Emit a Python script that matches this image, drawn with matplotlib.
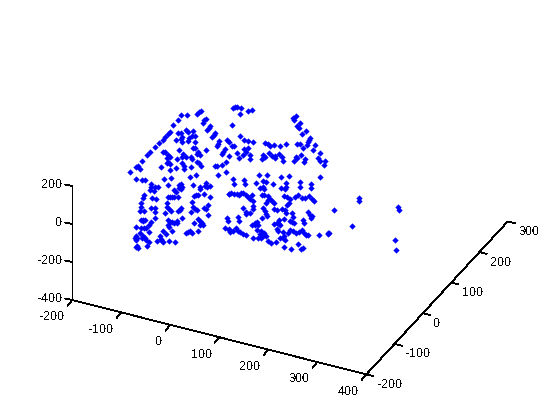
import matplotlib
matplotlib.use("Agg")
import matplotlib.pyplot as plt
import numpy as np

plt.rcParams['font.family'] = ['Liberation Sans', 'DejaVu Sans']
plt.rcParams['text.antialiased'] = False

# Tick values of the three axes
x_ticks = [-200, -100, 0, 100, 200, 300, 400]
y_ticks = [-200, -100, 0, 100, 200, 300]
z_ticks = [-400, -200, 0, 200]

# Point cloud: its projected position on the canvas
house_top_left = [
 (197.3,114.3),(199,112.3),(200.7,110.7),(203,122.7),(204.3,120.3),(206,118.7),(207.3,130),(208.7,127.7),(210,125.7),
 (212.3,137.3),(213.7,135),(214.7,133),(217,145.7),(218.3,143.7),(219.3,141),(222,153.7),(223.3,151.7),(224.7,149),
 (227.3,140.3),(229,141.7),(228.7,156),
 (181.3,115.3),(187.3,115.3),(178.3,120.3),(173.3,125.3),(170.3,132.3),(167.7,134.3),(165.3,137.3),(163.3,140),
 (159.3,143.3),(155.3,147.3),(150.3,152.3),(147.3,155.3),(142.3,161.3),(138.3,166.3),(136.3,167.3),(140.3,169.3),(130.3,172.3),
 (178.3,133.3),(181.3,133.3),(182.3,136.7),(181.3,139.3),(182.3,141.7),(176.3,140),(186.3,130),(188.3,131.7),(193.3,131.3),
 (192.3,136.3),(195.3,136.3),(189.3,137.7),(188.3,140.7),(195.3,141.7),(193.3,148.3),(195.3,148.3),(179,150.3),(206.3,150.3),
 (163.3,152.3),(165.3,152.3),(198.3,152.3),(197.3,154.3),(200.3,155.3),(168.3,155.3),(170.3,157.3),(167.3,158.3),(168.3,161.7),
 (170.3,164.3),(167.3,163.3),(183.3,154.3),(182.3,157.3),(186.3,157.3),(191.3,157.3),(192.3,159.3),(177.3,159.3),(197.3,162.3),
 (199.3,163.3),(201.3,166.3),(182.3,163.3),(184.3,166.3),(161.3,167.3),(176.3,168.3),(184.3,169.3),(191.3,167.3),(170.3,170.3),
 (215.3,166.3),(217.3,166.3),(222.3,165.3),(226.3,162.3),(196.3,175),
]
house_bottom_left = [
 (136.3,179.3),(142.3,180.3),(145.3,180.3),(164.3,179.3),(171.3,178.3),(190.3,177.3),(218.3,175.3),(226.3,172.3),
 (151.3,184.3),(151.3,186.7),(150.3,190),(154.3,190.7),(155.3,186.7),(158.3,187.3),(168.3,185.3),(174,190),(175.7,191.7),
 (179.3,185.3),(181.3,184.3),(182.3,186.7),(179.3,188.3),(181.3,189.3),(193.3,185.3),(200.3,187.3),(200.3,189),
 (206.3,183.3),(205.3,185.7),(207.3,186.7),(210.3,186),(144.3,195.3),(143.3,198.3),(141.3,203.3),(152.3,198.3),(156.3,199.3),
 (168.3,197.3),(170.3,197.3),(172.3,197.3),(174.3,197.3),(178.3,197.3),(194.3,196.3),(196.3,195.3),(198.3,195.3),(204.3,194.3),
 (210.3,197.3),(229,194.3),(167.3,203.3),(192.3,202.3),(141.3,207.3),(140.3,210.7),(144.3,210.7),(151.3,208.3),(155.3,208.3),
 (155.3,212.3),(155.3,218.3),(167.3,207.3),(169.3,209.3),(171.3,211.3),(165.3,213.3),(178.3,211.3),(181.3,208.3),(180.3,210.3),
 (193.3,207.3),(195.3,209.3),(197.3,210.3),(191.3,212.3),(208.3,205.3),(204.3,208.3),(206.3,209.3),(208.3,215.3),(182.3,218.3),
 (141.3,220.3),(143.3,220.3),(145.3,220.3),(143.3,221.3),(151.3,222.3),(149.3,225.3),(149.3,232.3),(168.3,220.3),(170.3,222.3),
 (172.3,222.3),(168.3,225.3),(169.3,227.3),(174.3,223.3),(177.3,221.3),(177.3,223.3),(198.3,219.3),(200.3,221.3),(202.3,223.3),
 (194.3,223.3),(200.3,224.7),(203.3,224.7),(227.3,218.3),(228.3,221.3),(136.3,227.3),(141.3,228.3),(144.3,228.3),(146.3,228.3),
 (225.3,228.3),(229.3,230.3),(163.3,231.3),(166.3,234.3),(172.3,231.3),(186.3,233.3),(188.3,232.3),(190.3,231.3),(192.3,233.3),
 (198.3,231.3),(140.3,233.3),(136.3,236.3),(135.3,238.3),(137.3,238.3),(136.3,240.3),(143.3,236.3),(142.3,238.3),(145.3,238.3),
 (146.3,240.3),(149.3,242.3),(160.3,236.3),(161.3,239.3),(162.3,241.3),(157.3,241.3),(163.3,242.3),(169.3,241.3),(175.3,242.3),
 (137.3,246.3),(138.3,248.3),(136.3,247.3),(147.3,246.3),
]
house_top_right = [
 (233.3,108.3),(235.3,107.3),(237.3,107.3),(241.3,108.3),(248.3,111.3),(252.3,110.3),(240.3,114.3),(232.3,125.3),(240.3,136.3),
 (244.3,140.3),(248.3,141.3),(253.3,142.3),(232.3,146.3),(234.3,146.3),(244.3,149.3),(248.3,148.3),(246.3,152.3),(243.3,155.3),
 (239.3,158.3),(237.3,153.3),(250.3,155.3),(250.3,159.3),(265.3,143.3),(268.3,144.3),(270.3,146.3),(274.3,145.3),(280.3,146.3),
 (286.3,144.3),(269.3,153.3),(272.3,156.3),(275.3,156.3),(275.3,158.3),(279.3,154.3),(282.3,157.3),(283.3,161.3),(263.3,155.3),
 (264.3,157.3),(262.3,159.3),(265.3,157.3),(293.3,118.3),(296.3,116.3),(294.3,120.3),(300.3,123.3),(297.3,126.3),(299.3,128.3),
 (302.3,134.3),(306.3,131.3),(310.3,138.3),(309.3,140.3),(308.3,142.3),(307.3,145.3),(297.3,144.3),(300.3,144.3),(303.3,148.3),
 (315.3,145.3),(313.3,150.3),(320.3,153.3),(301.3,155.3),(296.3,157.3),(297.3,158.3),(294.3,161.3),(305.3,159.3),(304.3,162.3),
 (318.3,158.3),(320.3,161.3),(325.3,161.3),(324.3,165.3),(259.3,175),(267.3,175),
]
house_bottom_right = [
 (281.3,177.3),(289.3,176.3),(320.3,177.3),(233.3,179.3),(234.3,184.3),(244.3,180.3),(245.3,184.3),(256.3,183.3),(263.3,181.3),
 (266.3,182.3),(263.3,187.3),(260.3,188.3),(264.3,189.3),(273.3,184.3),(286.3,183.3),(281.3,188.3),(285.3,189.3),(286.3,187.3),
 (300.3,182.3),(300.3,187.3),(311.3,184.3),(311.3,188.3),(229.3,194.3),(231.3,193.3),(234.3,194.3),(237.3,194.3),(239.3,195.3),
 (241.3,193.3),(243.3,193.3),(246.3,195.3),(248.3,197.3),(250.3,199.3),(252.3,195.3),(262.3,195.3),(264.3,195.3),(268.3,196.3),
 (268.3,200.3),(266.3,203.3),(270.3,199.3),(272.3,201.3),(274.3,203.3),(284.3,196.3),(287.3,197.3),(290.3,199.3),(289.3,203.3),
 (287.3,205.3),(295.3,197.3),(298.3,195.3),(302.3,198.3),(305.3,198.3),(309.3,196.3),(312.3,199.3),(314.3,201.3),(253.3,201.3),
 (253.3,206.3),(253.3,209.3),(243.3,208.3),(246.3,212.3),(246.3,214.3),(250.3,213.3),(263.3,208.3),(265.3,211.3),(266.3,214.3),
 (267.3,216.3),(274.3,209.3),(277.3,210.3),(282.3,209.3),(285.3,210.3),(286.3,213.3),(292.3,213.3),(293.3,217.3),(308.3,212.3),
 (310.3,215.3),(312.3,216.3),(311.3,218.3),(238.3,217.3),(239.3,221.3),(262.3,218.3),(284.3,219.3),(290.3,221.3),(292.3,222.3),
 (294.3,223.3),(303.3,220.3),(304.3,223.3),(279.3,220.3),(277.3,223.3),(279.3,224.3),(274.3,224.3),(280.3,225.3),(252.3,225.3),
 (255.3,223.3),(257.3,222.3),(258.3,225.3),(255.3,225.3),(229.3,229.3),(230.3,232.3),(233.3,231.3),(236.3,228.3),(238.3,231.3),
 (240.3,232.3),(243.3,234.3),(246.3,235.3),(257.3,230.3),(261.3,231.3),(260.3,234.3),(264.3,233.3),(263.3,236.3),(266.3,236.3),
 (277.3,229.3),(278.3,231.3),(283.3,232.3),(284.3,236.3),(280.3,238.3),(283.3,238.3),(285.3,240.3),(288.3,233.3),(290.3,230.3),
 (293.3,231.3),(296.3,233.3),(299.3,232.3),(302.3,230.3),(304.3,233.3),(306.3,235.3),(308.3,235.3),(319.3,235.3),(328.3,233.3),
 (253.3,238.3),(258.3,238.3),(261.3,238.3),(268.3,241.3),(271.3,243.3),(276.3,242.3),(298.3,244.3),(284.3,247.3),(291.3,249.3),
 (301.3,249.3),(303.3,248.3),
]
outliers = [
 (359.3,198.3),(359.3,200.7),(334.3,210.3),(398.3,207.3),(399.3,210.3),(352.3,226.3),(329.3,233.3),(328.3,234.3),(395.3,240.3),(396.3,250.3),
]


def project(x, y, z):
    """Fixed view of the 3-D box onto the canvas."""
    return (72.3 + (x + 200) * 0.49 + (y + 200) * 0.283,
            300 + (x + 200) * 0.124 - (y + 200) * 0.306 - (z + 400) * 0.19)


fig = plt.figure(figsize=(5.6, 4.2), dpi=100, facecolor='white')
ax = fig.add_axes([0, 0, 1, 1])
ax.set_xlim(0, 560)
ax.set_ylim(420, 0)
ax.axis('off')


def seg(p, q):
    ax.plot([p[0], q[0]], [p[1], q[1]], color='black', lw=0.55, antialiased=False,
            solid_capstyle='butt', zorder=1)


x0, x1 = x_ticks[0], x_ticks[-1]
y0, y1 = y_ticks[0], y_ticks[-1]
z0, z1 = z_ticks[0], z_ticks[-1]
seg(project(x0, y0, z0), project(x1, y0, z0))
seg(project(x1, y0, z0), project(x1, y1, z0))
seg(project(x0, y0, z0), project(x0, y0, z1))

for v in x_ticks:
    px, py = project(v, y0, z0)
    seg((px, py), (px - 5, py + 6))
    ax.text(px - 7.5, py + 17.5, str(v), ha='right', va='center', fontsize=9)
for v in y_ticks:
    px, py = project(x1, v, z0)
    seg((px, py), (px + 7.5, py + 1.9))
    ax.text(px + 11, py + 10.5, str(v), ha='left', va='center', fontsize=9)
for v in z_ticks:
    px, py = project(x0, y0, v)
    seg((px, py), (px - 7.3, py - 1.5))
    ax.text(px - 10, py - 1, str(v), ha='right', va='center', fontsize=9)

for group in (house_top_left, house_bottom_left, house_top_right, house_bottom_right, outliers):
    pts = np.array(group)
    ax.plot(pts[:, 0], pts[:, 1], ls='none', marker='D', ms=3.2, mfc='#0000ff', mec='#0000ff',
            mew=0, antialiased=False, zorder=3)

fig.savefig('out.png', dpi=100)
